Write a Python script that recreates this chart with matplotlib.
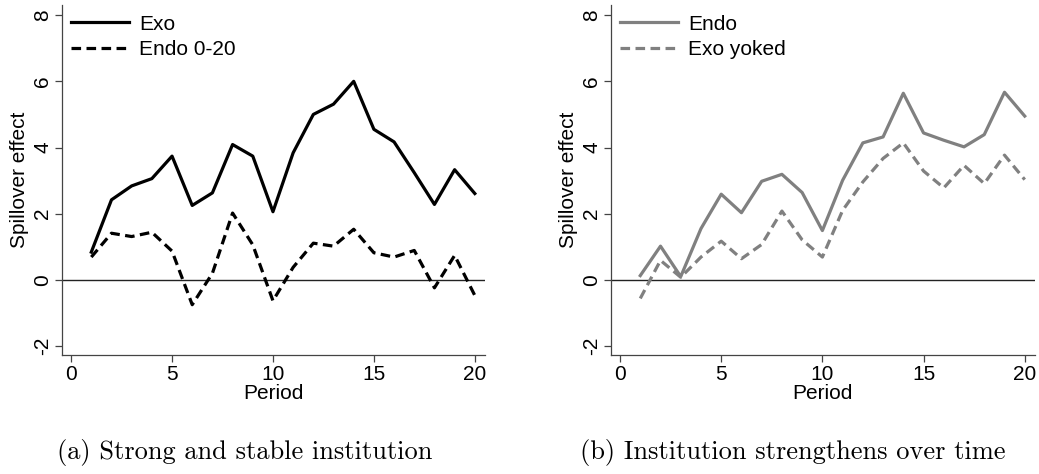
import matplotlib
matplotlib.use("Agg")
import matplotlib.pyplot as plt

periods = list(range(1, 21))

# panel (a)
exo = [0.84, 2.42, 2.84, 3.06, 3.74, 2.25, 2.63, 4.09, 3.74, 2.06,
       3.84, 5.00, 5.31, 6.00, 4.55, 4.17, 3.24, 2.28, 3.33, 2.61]
endo_0_20 = [0.69, 1.41, 1.31, 1.44, 0.87, -0.75, 0.20, 2.02, 1.06, -0.63,
             0.38, 1.11, 1.02, 1.53, 0.82, 0.69, 0.89, -0.24, 0.74, -0.47]

# panel (b)
endo = [0.13, 1.02, 0.10, 1.55, 2.59, 2.03, 2.98, 3.19, 2.64, 1.49,
        3.01, 4.14, 4.32, 5.64, 4.44, 4.22, 4.02, 4.39, 5.67, 4.95]
exo_yoked = [-0.56, 0.59, 0.08, 0.69, 1.17, 0.64, 1.07, 2.08, 1.21, 0.69,
             2.10, 2.96, 3.67, 4.14, 3.29, 2.78, 3.46, 2.91, 3.77, 3.03]

xticks = [0, 5, 10, 15, 20]
yticks = [-2, 0, 2, 4, 6, 8]

plt.rcParams["font.family"] = ["Liberation Sans", "DejaVu Sans"]
FS = 15
DASH = (0, (3, 1.7))

fig = plt.figure(figsize=(10.39, 4.74), dpi=100)
ax_a = fig.add_axes([0.0597, 0.251, 0.407, 0.738])
ax_b = fig.add_axes([0.588, 0.251, 0.408, 0.738])


def style(ax, s1, s2, l1, l2, color):
    ax.axhline(0, color="#222222", lw=1.0, zorder=1)
    ax.plot(periods, s1, color=color, lw=2.3, label=l1)
    ax.plot(periods, s2, color=color, lw=2.3, ls=DASH, label=l2)
    ax.set_xlim(-0.45, 20.5)
    ax.set_ylim(-2.27, 8.3)
    ax.set_xticks(xticks)
    ax.set_yticks(yticks)
    ax.set_yticklabels([str(t) for t in yticks], rotation=90, va="center")
    ax.tick_params(labelsize=FS, length=5, width=0.9, color="#444444", pad=2)
    for side in ("top", "right"):
        ax.spines[side].set_visible(False)
    for side in ("left", "bottom"):
        ax.spines[side].set_color("#444444")
        ax.spines[side].set_linewidth(0.9)
    ax.set_xlabel("Period", fontsize=FS, labelpad=0)
    ax.set_ylabel("Spillover effect", fontsize=FS, labelpad=3)
    ax.legend(loc="upper left", frameon=False, fontsize=FS, handlelength=2.75,
              handletextpad=0.5, labelspacing=0.32, borderaxespad=0.25,
              borderpad=0.2)


style(ax_a, exo, endo_0_20, "Exo", "Endo 0-20", "black")
style(ax_b, endo, exo_yoked, "Endo", "Exo yoked", "#808080")

fig.text(245 / 1039, 1 - 452 / 474, "(a) Strong and stable institution",
         family="cmr10", fontsize=19, ha="center", va="center")
fig.text(793 / 1039, 1 - 452 / 474, "(b) Institution strengthens over time",
         family="cmr10", fontsize=19, ha="center", va="center")

fig.savefig("out.png", dpi=100)
